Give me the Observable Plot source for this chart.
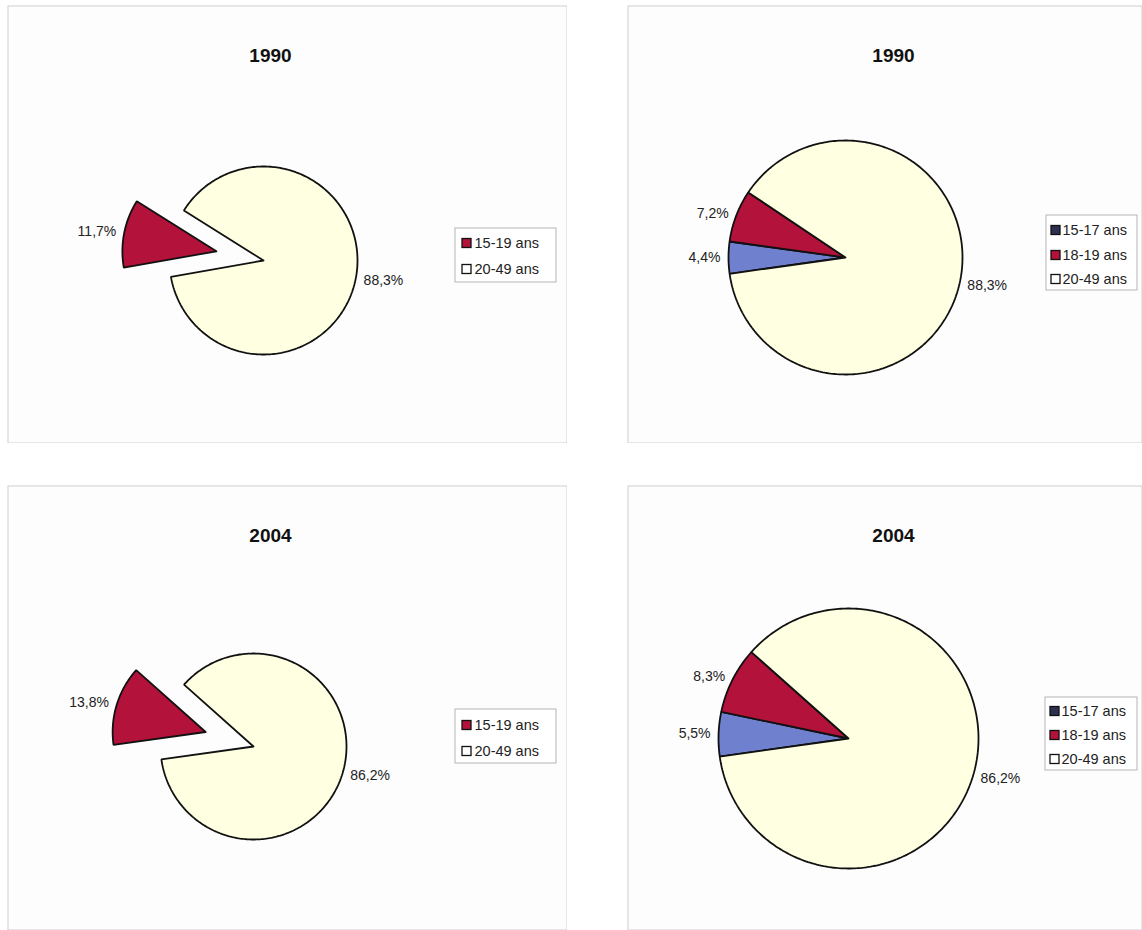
<!DOCTYPE html>
<html>
<head>
<meta charset="utf-8">
<script src="https://cdn.jsdelivr.net/npm/d3@7"></script>
<script src="https://cdn.jsdelivr.net/npm/@observablehq/plot@0.6"></script>
<style>
  html, body { margin: 0; padding: 0; background: #ffffff; width: 1142px; height: 930px; overflow: hidden; }
  .panel { position: absolute; }
  .panel svg { font-family: "Liberation Sans", Arial, sans-serif; background: #fdfdfd; }
</style>
</head>
<body>
<script>
// ---------------- data ----------------
const years = ["1990", "2004"];
const groups2 = ["15-19 ans", "20-49 ans"];
const groups3 = ["15-17 ans", "18-19 ans", "20-49 ans"];
const share2_1990 = [11.7, 88.3];
const share2_2004 = [13.8, 86.2];
const share3_1990 = [4.4, 7.2, 88.3];
const share3_2004 = [5.5, 8.3, 86.2];
const colors2 = ["#b3123b", "#ffffe2"];
const colors3 = ["#6f80cf", "#b3123b", "#ffffe2"];
const swatch3 = ["#2c3150", "#b3123b", "#ffffff"];
const swatch2 = ["#b3123b", "#ffffff"];

// ---------------- layout ----------------
const panels = [
  {left: 7, top: 5, w: 560, h: 438, cx: 256, cy: 255, r: 94, start: 260, explode: 48,
   title: years[0], titleX: 263, titleY: 50, groups: groups2, values: share2_1990, colors: colors2, swatch: swatch2,
   legend: {x: 448, y: 223, w: 101, h: 54, rows: [238, 264], sx: 455, tx: 467}},
  {left: 627, top: 5, w: 515, h: 438, cx: 218, cy: 252, r: 117, start: 262, explode: 0,
   title: years[0], titleX: 266, titleY: 50, groups: groups3, values: share3_1990, colors: colors3, swatch: swatch3,
   legend: {x: 419, y: 210, w: 91, h: 75, rows: [225, 250, 274], sx: 424, tx: 435}},
  {left: 7, top: 485, w: 560, h: 445, cx: 246, cy: 261, r: 93, start: 262, explode: 50,
   title: years[1], titleX: 263, titleY: 50, groups: groups2, values: share2_2004, colors: colors2, swatch: swatch2,
   legend: {x: 448, y: 224, w: 101, h: 54, rows: [240, 266], sx: 455, tx: 467}},
  {left: 627, top: 485, w: 515, h: 445, cx: 221, cy: 253, r: 130, start: 262, explode: 0,
   title: years[1], titleX: 266, titleY: 50, groups: groups3, values: share3_2004, colors: colors3, swatch: swatch3,
   legend: {x: 418, y: 212, w: 92, h: 73, rows: [226, 250, 274], sx: 423, tx: 434}}
];

const fmt = v => v.toFixed(1).replace(".", ",") + "%";

function drawPanel(p) {
  const u = px => (px - p.cx) / p.r;      // pixel -> unit (x)
  const v = py => (py - p.cy) / p.r;      // pixel -> unit (y)
  const rad = Math.PI / 180;
  const arcs = d3.pie().sort(null)
    .startAngle(p.start * rad).endAngle((p.start + 360) * rad)(p.values);

  const marks = [];
  const labels = [];
  arcs.forEach((a, i) => {
    const mid = (a.startAngle + a.endAngle) / 2;
    const ex = (p.explode && i === 0) ? p.explode / p.r : 0;
    const ox = ex * Math.sin(mid), oy = -ex * Math.cos(mid);
    const pts = [{x: ox, y: oy}];
    const n = Math.max(2, Math.ceil((a.endAngle - a.startAngle) / rad));
    for (let k = 0; k <= n; k++) {
      const t = a.startAngle + (a.endAngle - a.startAngle) * k / n;
      pts.push({x: ox + Math.sin(t), y: oy - Math.cos(t)});
    }
    pts.push({x: ox, y: oy});
    marks.push(Plot.line(pts, {x: "x", y: "y", fill: p.colors[i], stroke: "#111", strokeWidth: 1.8, strokeLinejoin: "miter"}));
    const lr = 1 + 8 / p.r;
    const lx = ox + lr * Math.sin(mid), ly = oy - lr * Math.cos(mid);
    labels.push({x: lx, y: ly, text: fmt(p.values[i]), right: Math.sin(mid) >= 0});
  });

  const L = p.legend;
  const legendRows = p.groups.map((g, i) => ({
    g, y: v(L.rows[i]), sx1: u(L.sx), sx2: u(L.sx + 9), sy1: v(L.rows[i] - 4.5), sy2: v(L.rows[i] + 4.5),
    tx: u(L.tx), fill: p.swatch[i]
  }));

  const plot = Plot.plot({
    width: p.w, height: p.h,
    margin: 0,
    x: {domain: [u(0), u(p.w)], range: [0, p.w], axis: null},
    y: {domain: [v(0), v(p.h)], range: [0, p.h], axis: null},
    color: {type: "identity"},
    marks: [
      Plot.frame({stroke: "#cfcfcf", strokeWidth: 1, inset: 0.5}),
      Plot.text([p.title], {x: u(p.titleX), y: v(p.titleY), text: d => d, fontSize: 19, fontWeight: "bold", fill: "#111"}),
      ...marks,
      Plot.text(labels.filter(d => d.right), {x: "x", y: "y", text: "text", textAnchor: "start", fontSize: 14, fill: "#222"}),
      Plot.text(labels.filter(d => !d.right), {x: "x", y: "y", text: "text", textAnchor: "end", fontSize: 14, fill: "#222"}),
      Plot.rect([L], {x1: u(L.x), x2: u(L.x + L.w), y1: v(L.y), y2: v(L.y + L.h), fill: "#fff", stroke: "#b5b5b5", strokeWidth: 1}),
      Plot.rect(legendRows, {x1: "sx1", x2: "sx2", y1: "sy1", y2: "sy2", fill: "fill", stroke: "#111", strokeWidth: 1.3}),
      Plot.text(legendRows, {x: "tx", y: "y", text: "g", textAnchor: "start", fontSize: 14.5, fill: "#222"})
    ]
  });
  const div = document.createElement("div");
  div.className = "panel";
  div.style.left = p.left + "px";
  div.style.top = p.top + "px";
  div.appendChild(plot);
  document.body.appendChild(div);
}

panels.forEach(drawPanel);
</script>
</body>
</html>
